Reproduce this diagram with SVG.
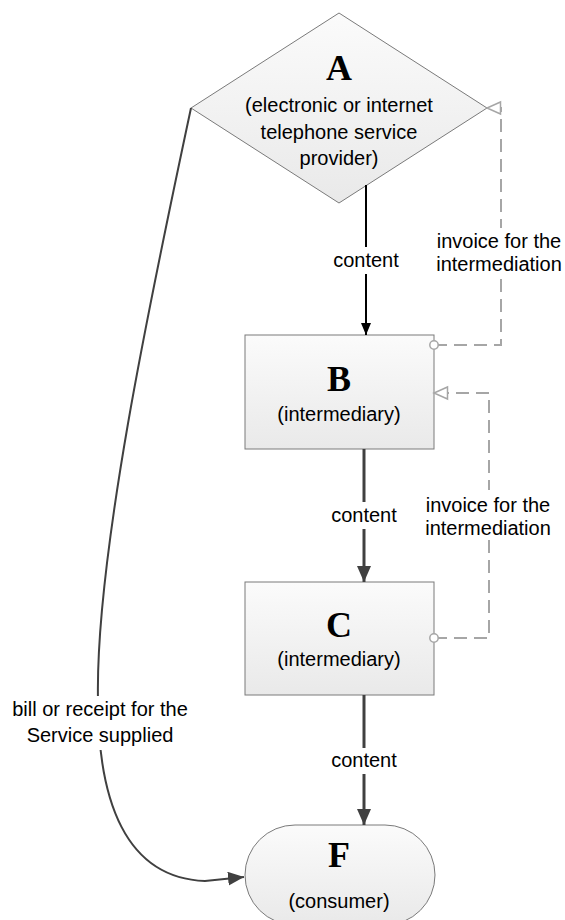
<svg xmlns="http://www.w3.org/2000/svg" width="565" height="920" viewBox="0 0 565 920">
<defs>
<linearGradient id="g" x1="0" y1="0" x2="0" y2="1">
<stop offset="0" stop-color="#fbfbfb"/>
<stop offset="1" stop-color="#e9e9e9"/>
</linearGradient>
<marker id="ab" viewBox="0 0 12 10" refX="12" refY="5" markerWidth="12" markerHeight="10" markerUnits="userSpaceOnUse" orient="auto">
<path d="M0,0 L12,5 L0,10 Z" fill="#000"/>
</marker>
<marker id="ag" viewBox="0 0 16 14" refX="16" refY="7" markerWidth="16" markerHeight="14" markerUnits="userSpaceOnUse" orient="auto">
<path d="M0,0 L16,7 L0,14 Z" fill="#404040"/>
</marker>
<marker id="ot" viewBox="0 0 16 14" refX="14.5" refY="7" markerWidth="16" markerHeight="14" markerUnits="userSpaceOnUse" orient="auto" overflow="visible">
<path d="M1,1 L14.5,7 L1,13 Z" fill="#fff" stroke="#a6a6a6" stroke-width="1.5"/>
</marker>
<marker id="oc" viewBox="0 0 12 12" refX="6" refY="6" markerWidth="12" markerHeight="12" markerUnits="userSpaceOnUse" orient="auto" overflow="visible">
<circle cx="6" cy="6" r="4.2" fill="#fff" stroke="#a6a6a6" stroke-width="1.5"/>
</marker>
</defs>
<style>
.node{fill:url(#g);stroke:#7a7a7a;stroke-width:1}
.big{font-family:"Liberation Serif",serif;font-weight:bold;font-size:36px;text-anchor:middle;fill:#000}
.t{font-family:"Liberation Sans",Arial,sans-serif;font-size:20px;text-anchor:middle;fill:#000}
.bg{fill:#fff}
.dash{fill:none;stroke:#a6a6a6;stroke-width:2;stroke-dasharray:13 7}
</style>
<g id="A">
<path class="node" d="M339,13 L487,108 L339,203 L191,108 Z"/>
<text class="big" x="339" y="80">A</text>
<text class="t" x="339" y="112">(electronic or internet</text>
<text class="t" x="339" y="139">telephone service</text>
<text class="t" x="339" y="165">provider)</text>
</g>
<g id="B">
<rect class="node" x="245" y="335" width="189" height="114"/>
<text class="big" x="339" y="391">B</text>
<text class="t" x="339" y="421">(intermediary)</text>
</g>
<g id="C">
<rect class="node" x="245" y="582" width="189" height="113"/>
<text class="big" x="339" y="637">C</text>
<text class="t" x="339" y="666">(intermediary)</text>
</g>
<g id="F">
<rect class="node" x="245" y="825" width="190" height="100" rx="50" ry="50"/>
<text class="big" x="339" y="867">F</text>
<text class="t" x="339" y="908">(consumer)</text>
</g>
<g id="connectors">
<path d="M191,108 C150,300 95,560 98,700 C98,800 125,878 205,881 L244,877" fill="none" stroke="#404040" stroke-width="2" marker-end="url(#ag)"/>
<rect class="bg" x="8" y="696" width="186" height="54"/>
<text class="t" x="100" y="716">bill or receipt for the</text>
<text class="t" x="100" y="742">Service supplied</text>
<path d="M366,185 L366,335" fill="none" stroke="#000" stroke-width="2" marker-end="url(#ab)"/>
<rect class="bg" x="330" y="247" width="72" height="27"/>
<text class="t" x="366" y="267">content</text>
<path d="M364,449 L364,582" fill="none" stroke="#404040" stroke-width="3" marker-end="url(#ag)"/>
<rect class="bg" x="328" y="502" width="72" height="27"/>
<text class="t" x="364" y="522">content</text>
<path d="M364,695 L364,825" fill="none" stroke="#404040" stroke-width="3" marker-end="url(#ag)"/>
<rect class="bg" x="328" y="748" width="72" height="26"/>
<text class="t" x="364" y="767">content</text>
<path class="dash" d="M434,345 L501,345 L501,108 L487,108" marker-start="url(#oc)" marker-end="url(#ot)"/>
<rect class="bg" x="434" y="228" width="131" height="50"/>
<text class="t" x="499" y="248">invoice for the</text>
<text class="t" x="499" y="271">intermediation</text>
<path class="dash" d="M434,638 L489,638 L489,393 L434,393" marker-start="url(#oc)" marker-end="url(#ot)"/>
<rect class="bg" x="424" y="490" width="130" height="50"/>
<text class="t" x="488" y="512">invoice for the</text>
<text class="t" x="488" y="535">intermediation</text>
</g>
</svg>
